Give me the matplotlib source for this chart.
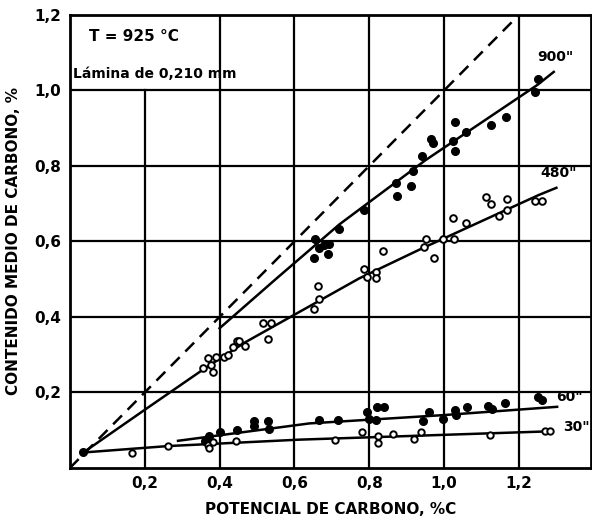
import matplotlib
matplotlib.use("Agg")
import matplotlib.pyplot as plt

# ---- data ----
x_ticks = [0.2, 0.4, 0.6, 0.8, 1.0, 1.2]
x_tick_labels = ["0,2", "0,4", "0,6", "0,8", "1,0", "1,2"]
y_ticks = [0.2, 0.4, 0.6, 0.8, 1.0, 1.2]
y_tick_labels = ["0,2", "0,4", "0,6", "0,8", "1,0", "1,2"]

# equilibrium (dashed) line
eq_x = [0.0, 1.2]
eq_y = [0.0, 1.2]

# 900" series (filled)
p900_x = [0.656, 0.665, 0.653, 0.680, 0.692, 0.689, 0.720, 0.787, 0.871, 0.873, 0.911, 0.916,
          0.942, 0.964, 0.969, 1.025, 1.029, 1.029, 1.058, 1.124, 1.166, 1.244, 1.250]
p900_y = [0.606, 0.582, 0.555, 0.591, 0.593, 0.566, 0.634, 0.682, 0.754, 0.719, 0.747, 0.787,
          0.826, 0.871, 0.860, 0.865, 0.840, 0.917, 0.891, 0.909, 0.929, 0.997, 1.030]
c900_x = [0.40, 0.55, 0.72, 0.95, 1.25, 1.293]
c900_y = [0.37, 0.50, 0.645, 0.815, 1.015, 1.049]

# 480" series (open)
p480_x = [0.356, 0.369, 0.378, 0.382, 0.391, 0.411, 0.422, 0.436, 0.446, 0.453, 0.467, 0.516,
          0.538, 0.529, 0.662, 0.667, 0.653, 0.787, 0.793, 0.819, 0.819, 0.836, 0.951, 0.947,
          0.973, 0.997, 1.027, 1.025, 1.058, 1.111, 1.124, 1.148, 1.167, 1.169, 1.243, 1.262]
p480_y = [0.264, 0.290, 0.273, 0.255, 0.295, 0.295, 0.299, 0.321, 0.336, 0.335, 0.323, 0.383,
          0.383, 0.341, 0.482, 0.447, 0.420, 0.526, 0.507, 0.520, 0.502, 0.575, 0.606, 0.585,
          0.555, 0.606, 0.606, 0.661, 0.650, 0.717, 0.699, 0.668, 0.712, 0.682, 0.707, 0.707]
c480_x = [0.036, 0.20, 0.355, 0.467, 0.773, 0.942, 1.253, 1.30]
c480_y = [0.041, 0.154, 0.260, 0.332, 0.502, 0.582, 0.723, 0.742]

# 60" series (filled)
p60_x = [0.036, 0.360, 0.371, 0.400, 0.447, 0.491, 0.493, 0.529, 0.531, 0.665, 0.716, 0.795,
         0.798, 0.819, 0.822, 0.840, 0.944, 0.960, 0.998, 1.029, 1.031, 1.062, 1.118, 1.127,
         1.164, 1.251, 1.262]
p60_y = [0.041, 0.072, 0.085, 0.094, 0.100, 0.125, 0.112, 0.124, 0.103, 0.127, 0.127, 0.149,
         0.131, 0.127, 0.161, 0.161, 0.125, 0.149, 0.131, 0.154, 0.140, 0.161, 0.164, 0.155,
         0.173, 0.187, 0.180]
c60_x = [0.289, 0.64, 0.998, 1.302]
c60_y = [0.072, 0.118, 0.140, 0.162]

# 30" series (open)
p30_x = [0.167, 0.262, 0.369, 0.371, 0.382, 0.443, 0.709, 0.780, 0.824, 0.824, 0.864, 0.920,
         0.938, 1.122, 1.269, 1.284]
p30_y = [0.039, 0.057, 0.062, 0.052, 0.068, 0.072, 0.074, 0.096, 0.085, 0.067, 0.090, 0.076,
         0.094, 0.087, 0.099, 0.099]
c30_x = [0.036, 0.262, 0.613, 1.28]
c30_y = [0.041, 0.058, 0.075, 0.097]

series_labels = ['900"', '480"', '60"', '30"']
label_pos_x = [1.25, 1.258, 1.30, 1.318]
label_pos_y = [1.088, 0.782, 0.188, 0.108]

# ---- figure ----
fig = plt.figure(figsize=(5.92, 5.22), dpi=100)
ax = fig.add_axes([0.118, 0.1035, 0.88, 0.868])
ax.set_xlim(0, 1.392)
ax.set_ylim(0, 1.2)

lw_grid = 1.6
# grid lines
for xv in x_ticks:
    top = 1.0 if xv == 0.2 else 1.2
    ax.plot([xv, xv], [0, top], color="black", lw=lw_grid, zorder=1)
for yv in y_ticks[:-1]:
    ax.plot([0, 1.392], [yv, yv], color="black", lw=lw_grid, zorder=1)

for s in ["left", "bottom", "top", "right"]:
    ax.spines[s].set_linewidth(2.0)

ax.plot(eq_x, eq_y, color="black", lw=1.8, ls=(0, (5, 3.2)), zorder=2)

line_kw = dict(color="black", lw=1.8, zorder=3)
ax.plot(c900_x, c900_y, **line_kw)
ax.plot(c480_x, c480_y, **line_kw)
ax.plot(c60_x, c60_y, **line_kw)
ax.plot(c30_x, c30_y, **line_kw)

ax.plot(p900_x, p900_y, "o", ms=5.5, color="black", zorder=4)
ax.plot(p60_x, p60_y, "o", ms=5.5, color="black", zorder=4)
ax.plot(p480_x, p480_y, "o", ms=4.8, mfc="white", mec="black", mew=1.4, zorder=4)
ax.plot(p30_x, p30_y, "o", ms=4.6, mfc="white", mec="black", mew=1.4, zorder=4)

for lab, lx, ly in zip(series_labels, label_pos_x, label_pos_y):
    ax.text(lx, ly, lab, fontsize=10, fontweight="bold", ha="left", va="center", zorder=5)

ax.text(0.05, 1.142, "T = 925 °C", fontsize=11, fontweight="bold", ha="left", va="center")
ax.text(0.008, 1.044, "Lámina de 0,210 mm", fontsize=10, fontweight="bold", ha="left", va="center")

ax.set_xticks(x_ticks)
ax.set_xticklabels(x_tick_labels, fontsize=11, fontweight="bold")
ax.set_yticks(y_ticks)
ax.set_yticklabels(y_tick_labels, fontsize=11, fontweight="bold")
ax.tick_params(length=0, pad=6)

ax.set_xlabel("POTENCIAL DE CARBONO, %C", fontsize=11, fontweight="bold", labelpad=8)
ax.set_ylabel("CONTENIDO MEDIO DE CARBONO, %", fontsize=11, fontweight="bold", labelpad=10)

fig.savefig("out.png", dpi=100)
